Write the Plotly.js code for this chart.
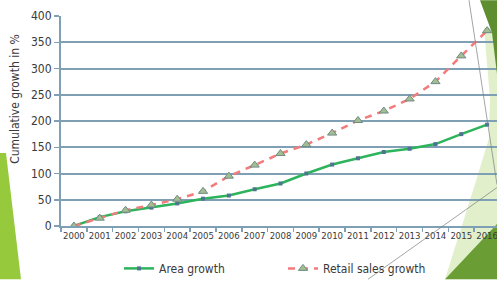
<!DOCTYPE html>
<html>
<head>
<meta charset="utf-8">
<script src="https://cdn.plot.ly/plotly-3.0.1.min.js"></script>
<style>
html,body{margin:0;padding:0;overflow:hidden;background:#fff;width:497px;height:283px;}
#chart{width:500px;height:283px;}
</style>
</head>
<body>
<div id="chart"></div>
<script>
const years = ['2000','2001','2002','2003','2004','2005','2006','2007','2008','2009','2010','2011','2012','2013','2014','2015','2016'];
const areaGrowth = [0,17,28,35,43,52,58,70,81,100,117,129,141,147,156,175,193];
const retailGrowth = [0,15,30,40,51,66,95,116,138,155,177,201,219,242,275,324,372];
const yTicks = [0,50,100,150,200,250,300,350,400];
const yTitle = 'Cumulative growth in %';

// plot area in pixels (for decorative slide shapes only)
const L = 61, R = 500, T = 16, B = 229;
const px = x => (x - L) / (R - L);
const py = y => (B - y) / (B - T);
function poly(pts){
  return 'M' + pts.map(p => px(p[0]).toFixed(4) + ',' + py(p[1]).toFixed(4)).join(' L') + ' Z';
}
const shapes = [
  {type:'path', xref:'paper', yref:'paper', path: poly([[0,155],[6,155],[21,283],[0,283]]), fillcolor:'#97c93d', line:{width:0}, layer:'above'},
  {type:'path', xref:'paper', yref:'paper', path: poly([[484,28],[497,28],[497,283],[445,283],[477,180],[489,140],[490,100]]), fillcolor:'rgba(205,228,168,0.6)', line:{width:0}, layer:'below'},
  {type:'path', xref:'paper', yref:'paper', path: poly([[480,0],[497,0],[497,75],[492,33]]), fillcolor:'#5e8e30', line:{width:0}, layer:'above'},
  {type:'path', xref:'paper', yref:'paper', path: poly([[497,227],[497,283],[445,283]]), fillcolor:'#6a9e35', line:{width:0}, layer:'below'},
  {type:'line', xref:'paper', yref:'paper', x0:px(469), y0:py(0), x1:px(497), y1:py(187), line:{color:'#7a7f80', width:0.7}, layer:'above'},
  {type:'line', xref:'paper', yref:'paper', x0:px(368), y0:py(283), x1:px(497), y1:py(190), line:{color:'#7a7f80', width:0.7}, layer:'above'}
];

const traces = [
  {x: years, y: areaGrowth, name: 'Area growth', type: 'scatter', mode: 'lines+markers',
   line: {color: '#2db35c', width: 2.5},
   marker: {symbol: 'square', size: 4, color: '#4f7390'}},
  {x: years, y: retailGrowth, name: 'Retail sales growth', type: 'scatter', mode: 'lines+markers',
   line: {color: '#f27b7b', width: 2.5, dash: '7px,6px'},
   marker: {symbol: 'triangle-up', size: 8, color: '#a3bf8f', line: {color: '#6d8a86', width: 1}}}
];

const layout = {
  width: 500, height: 283,
  margin: {l: L, r: 0, t: T, b: 283 - B},
  paper_bgcolor: '#ffffff', plot_bgcolor: 'rgba(0,0,0,0)',
  font: {family: '"DejaVu Sans Condensed", "DejaVu Sans", sans-serif', size: 10, color: '#3a3a3a'},
  showlegend: true,
  legend: {orientation: 'h', x: px(119), xanchor: 'left', y: py(272), yanchor: 'middle',
           font: {size: 12, color: '#3a3a3a'}, entrywidth: 119, itemwidth: 30, bgcolor: 'rgba(0,0,0,0)'},
  xaxis: {type: 'category', range: [-0.5, 16.5], tickson: 'boundaries', ticks: 'outside', ticklen: 4,
          tickcolor: '#7f9fb5', tickwidth: 1.5, showgrid: false, showline: true, linecolor: '#7f9fb5', linewidth: 2,
          tickfont: {size: 9.5}, tickangle: 0, fixedrange: true},
  yaxis: {range: [0, 400], tickvals: yTicks, ticks: 'outside', ticklen: 5, tickcolor: '#7f9fb5', tickwidth: 1.5,
          showgrid: true, gridcolor: '#7f9fb5', gridwidth: 2, zeroline: false, showline: true, linecolor: '#7f9fb5', linewidth: 2,
          tickfont: {size: 12}, ticksuffix: ' '},
  annotations: [{text: yTitle, xref: 'paper', yref: 'paper', x: px(15), y: py(100), xanchor: 'center', yanchor: 'middle',
                 textangle: -90, showarrow: false, font: {size: 12, color: '#3a3a3a'}}],
  shapes: shapes
};

Plotly.newPlot('chart', traces, layout, {displayModeBar: false, staticPlot: true});
</script>
</body>
</html>
